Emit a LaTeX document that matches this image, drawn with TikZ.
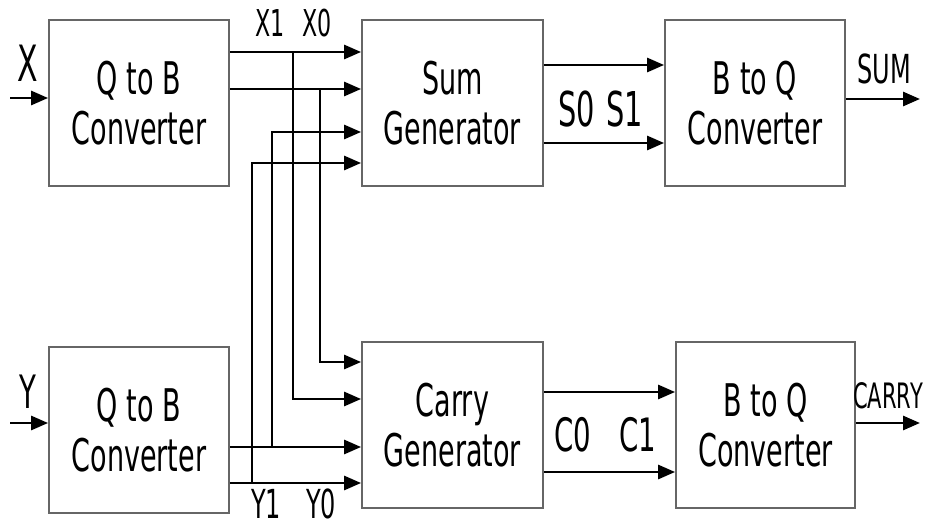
\documentclass[tikz,border=0pt]{standalone}
\usepackage{fontspec}
\usetikzlibrary{arrows.meta}
\newfontfamily\condfont[FakeStretch=0.6]{DejaVu Sans}

\begin{document}
\begin{tikzpicture}[x=1pt,y=-1pt,
  block/.style={draw=black!60,line width=1.8pt,minimum width=180pt,minimum height=166pt,
    align=center,inner sep=0pt,font=\condfont\fontsize{45}{50}\selectfont},
  sig/.style={line width=2.8pt,-{Triangle[length=17pt,width=14pt]}},
  lbl/.style={inner sep=0pt,font=\condfont\fontsize{#1}{#1}\selectfont}]
  \useasboundingbox (0,0) rectangle (925,529);

  \node[block] (qbx) at (139,103) {Q to B\\Converter};
  \node[block,minimum width=181pt] (sumgen) at (452.5,103) {Sum\\Generator};
  \node[block] (bqs) at (755,103) {B to Q\\Converter};
  \node[block] (qby) at (139,430) {Q to B\\Converter};
  \node[block,minimum width=181pt] (carrygen) at (452.5,425) {Carry\\Generator};
  \node[block,minimum width=179pt] (bqc) at (765.5,425) {B to Q\\Converter};

  \coordinate (xin) at (10,98);
  \coordinate (yin) at (10,423);
  \coordinate (x1) at (293,52);
  \coordinate (x0) at (320,89);
  \coordinate (y0) at (272,447);
  \coordinate (y1) at (252,483);
  \coordinate (sumout) at (920,99);
  \coordinate (carryout) at (920,423);

  \draw[sig] (xin) -- (qbx.west |- xin);
  \draw[sig] (yin) -- (qby.west |- yin);

  \draw[sig] (qbx.east |- x1) -- (sumgen.west |- x1);
  \draw[sig] (qbx.east |- x0) -- (sumgen.west |- x0);
  \draw[sig] (qby.east |- y0) -- (carrygen.west |- y0);
  \draw[sig] (qby.east |- y1) -- (carrygen.west |- y1);
  \draw[sig] (x1) |- (carrygen.west |- 0,399);
  \draw[sig] (x0) |- (carrygen.west |- 0,362);
  \draw[sig] (y0) |- (sumgen.west |- 0,132);
  \draw[sig] (y1) |- (sumgen.west |- 0,163);

  \draw[sig] (sumgen.east |- 0,65) -- (bqs.west |- 0,65);
  \draw[sig] (sumgen.east |- 0,143) -- (bqs.west |- 0,143);
  \draw[sig] (carrygen.east |- 0,392) -- (bqc.west |- 0,392);
  \draw[sig] (carrygen.east |- 0,472) -- (bqc.west |- 0,472);
  \draw[sig] (bqs.east |- sumout) -- (sumout);
  \draw[sig] (bqc.east |- carryout) -- (carryout);

  \node[lbl=50] (xlbl) at (28,63) {X};
  \node[lbl=46] (ylbl) at (28,392) {Y};
  \node[lbl=37] (x1lbl) at (270,23) {X1};
  \node[lbl=37] (x0lbl) at (317,23) {X0};
  \node[lbl=40] (y1lbl) at (266,504) {Y1};
  \node[lbl=40] (y0lbl) at (321,504) {Y0};
  \node[lbl=48] (s0lbl) at (577,109) {S0};
  \node[lbl=48] (s1lbl) at (625,109) {S1};
  \node[lbl=46] (c0lbl) at (573,435) {C0};
  \node[lbl=46] (c1lbl) at (638,435) {C1};
  \node[lbl=40] (sumlbl) at (884,69) {SUM};
  \node[lbl=35,anchor=west] (carrylbl) at (853,396) {CARRY};
\end{tikzpicture}
\end{document}
